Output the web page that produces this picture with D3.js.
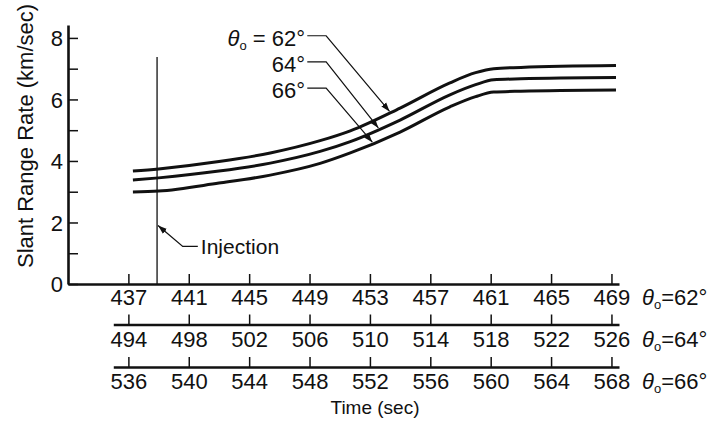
<!DOCTYPE html>
<html>
<head>
<meta charset="utf-8">
<script src="https://cdn.jsdelivr.net/npm/d3@7"></script>
<style>
  body { margin: 0; background: #fff; }
  text { font-family: "Liberation Sans", Arial, sans-serif; fill: #111; }
</style>
</head>
<body>
<div id="chart"></div>
<script>
// time along the theta0 = 62 deg scale (sec)
var times  = [437.3, 439, 443, 446.4, 449.7, 451.7, 455, 458.3, 460, 461.2, 463, 469.3];
// slant range rate (km/sec)
var rate62 = [3.67, 3.74, 3.98, 4.26, 4.66, 4.98, 5.72, 6.54, 6.87, 7.00, 7.04, 7.10];
var rate64 = [3.38, 3.45, 3.67, 3.93, 4.31, 4.63, 5.33, 6.15, 6.48, 6.64, 6.67, 6.71];
var rate66 = [2.99, 3.02, 3.28, 3.54, 3.92, 4.26, 4.94, 5.76, 6.09, 6.24, 6.27, 6.31];

var ticks62 = [437, 441, 445, 449, 453, 457, 461, 465, 469];
var ticks64 = [494, 498, 502, 506, 510, 514, 518, 522, 526];
var ticks66 = [536, 540, 544, 548, 552, 556, 560, 564, 568];
var yTicks  = [0, 2, 4, 6, 8];
var yMinor  = [1, 3, 5, 7];
var injectionTime = 438.9;

var width = 714, height = 423;

var svg = d3.select("#chart")
            .append("svg")
            .attr("width", width)
            .attr("height", height);

var defs = svg.append("defs");
defs.append("marker")
    .attr("id", "arrow")
    .attr("viewBox", "0 0 10 10")
    .attr("refX", 10).attr("refY", 5)
    .attr("markerWidth", 9).attr("markerHeight", 9)
    .attr("markerUnits", "userSpaceOnUse")
    .attr("orient", "auto")
    .append("path")
    .attr("d", "M0,1.5L10,5L0,8.5Z")
    .attr("fill", "#111");

var x = d3.scaleLinear().domain([433, 469.5]).range([68, 619]);
var y = d3.scaleLinear().domain([0, 8.42]).range([284, 25]);

// the two lower time scales are the same axis shifted
var x64 = d3.scaleLinear().domain([436 + 57, 469.5 + 57]).range([x(436), x(469.5)]);
var x66 = d3.scaleLinear().domain([436 + 99, 469.5 + 99]).range([x(436), x(469.5)]);

function styleAxis(g){
    g.select(".domain").attr("stroke", "#111").attr("stroke-width", 2.6);
    g.selectAll(".tick line").attr("stroke", "#111").attr("stroke-width", 1.5);
    g.selectAll(".tick text").attr("font-size", 22).attr("fill", "#111")
        .attr("font-family", '"Liberation Sans", Arial, sans-serif');
}

// y axis
var gy = svg.append("g")
    .attr("transform", "translate(" + x(433) + ",0)")
    .call(d3.axisLeft(y).tickValues(yTicks).tickSize(-10).tickSizeOuter(0).tickPadding(5)
            .tickFormat(d3.format("d")));
styleAxis(gy);
gy.selectAll(".tick text").attr("dy", "0.36em");
svg.append("g")
    .attr("transform", "translate(" + x(433) + ",0)")
    .call(d3.axisLeft(y).tickValues(yMinor).tickSize(-10).tickFormat(""))
    .call(function(g){
        g.select(".domain").remove();
        g.selectAll(".tick line").attr("stroke", "#111").attr("stroke-width", 1.5);
    });

// three time axes
var rows = [
    {scale: x,   ticks: ticks62, y: 284,   pad: 5, name: "62°"},
    {scale: x64, ticks: ticks64, y: 324.5, pad: 7, name: "64°"},
    {scale: x66, ticks: ticks66, y: 367,   pad: 6, name: "66°"}
];

rows.forEach(function(r){
    var g = svg.append("g")
        .attr("transform", "translate(0," + r.y + ")")
        .call(d3.axisBottom(r.scale).tickValues(r.ticks).tickSize(-10)
                .tickSizeOuter(0).tickPadding(r.pad).tickFormat(d3.format("d")));
    styleAxis(g);

    var t = svg.append("text")
        .attr("x", x(469.5) + 23)
        .attr("y", r.y + r.pad)
        .attr("dy", "0.71em")
        .attr("font-size", 22);
    t.append("tspan").attr("font-style", "italic").text("θ");
    t.append("tspan").attr("font-size", 13).attr("dy", 4).text("o");
    t.append("tspan").attr("dy", -4).text("=" + r.name);
});

svg.append("text")
    .attr("x", 375)
    .attr("y", 414)
    .attr("text-anchor", "middle")
    .attr("font-size", 19)
    .text("Time (sec)");

svg.append("text")
    .attr("transform", "translate(33,136) rotate(-90)")
    .attr("text-anchor", "middle")
    .attr("font-size", 22)
    .text("Slant Range Rate (km/sec)");

// curves
var line = d3.line()
    .x(function(d){ return x(d[0]); })
    .y(function(d){ return y(d[1]); })
    .curve(d3.curveMonotoneX);

var series = [rate62, rate64, rate66];
svg.selectAll(".curve")
    .data(series)
    .enter().append("path")
    .attr("class", "curve")
    .attr("fill", "none")
    .attr("stroke", "#111")
    .attr("stroke-width", 3)
    .attr("d", function(s){ return line(times.map(function(t, i){ return [t, s[i]]; })); });

// injection marker
svg.append("line")
    .attr("x1", x(injectionTime)).attr("x2", x(injectionTime))
    .attr("y1", y(7.38)).attr("y2", y(0))
    .attr("stroke", "#111").attr("stroke-width", 1.3);

svg.append("path")
    .attr("fill", "none").attr("stroke", "#111").attr("stroke-width", 1.3)
    .attr("marker-end", "url(#arrow)")
    .attr("d", d3.line()([[x(441.6), y(1.22)], [x(440.6), y(1.22)], [x(injectionTime) + 1, y(1.9)]]));

svg.append("text")
    .attr("x", x(441.8)).attr("y", y(1.22))
    .attr("dy", "0.36em")
    .attr("font-size", 21)
    .text("Injection");

// curve labels with leaders
var leaders = [
    {s: rate62, label: "62°", first: true, v: 8.07, tip: 454.3},
    {s: rate64, label: "64°", v: 7.22, tip: 453.56},
    {s: rate66, label: "66°", v: 6.37, tip: 453.16}
];

leaders.forEach(function(l){
    var along = d3.scaleLinear().domain(times).range(l.s);
    var t = svg.append("text")
        .attr("x", x(448.7)).attr("y", y(l.v) + 2)
        .attr("dy", "0.36em")
        .attr("text-anchor", "end")
        .attr("font-size", 22);
    if (l.first){
        t.append("tspan").attr("font-style", "italic").text("θ");
        t.append("tspan").attr("font-size", 13).attr("dy", 4).text("o");
        t.append("tspan").attr("dy", -4).text(" = " + l.label);
    } else {
        t.text(l.label);
    }
    svg.append("path")
        .attr("fill", "none").attr("stroke", "#111").attr("stroke-width", 1.2)
        .attr("marker-end", "url(#arrow)")
        .attr("d", d3.line()([[x(448.85), y(l.v)], [x(450.1), y(l.v)],
                              [x(l.tip), y(along(l.tip)) - 1.5]]));
});
</script>
</body>
</html>
